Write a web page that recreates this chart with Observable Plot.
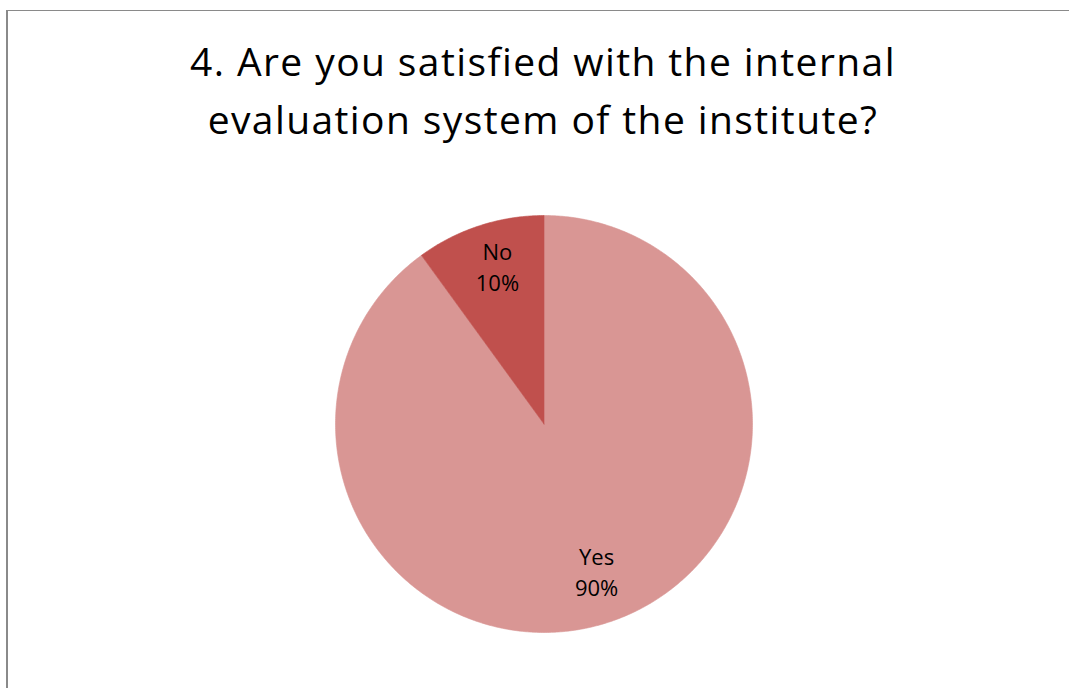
<!DOCTYPE html>
<html>
<head>
<meta charset="utf-8">
<script src="https://cdn.jsdelivr.net/npm/d3@7"></script>
<script src="https://cdn.jsdelivr.net/npm/@observablehq/plot@0.6"></script>
<style>
  html, body { margin: 0; padding: 0; background: #fff; width: 1069px; height: 688px; overflow: hidden; }
  #frame { position: absolute; left: 6px; top: 10px; width: 1100px; height: 700px;
           border-left: 2px solid #8a8a8a; border-top: 1px solid #8a8a8a; }
  #title { position: absolute; left: 0; top: 32px; width: 1086px; text-align: center;
           font-family: "Open Sans", sans-serif; font-size: 39px; letter-spacing: 1.4px;
           line-height: 58px; color: #000; }
  #chart { position: absolute; left: 0; top: 0; }
</style>
</head>
<body>
<div id="frame"></div>
<div id="chart"></div>
<div id="title">4. Are you satisfied with the internal<br>evaluation system of the institute?</div>
<script>
const categories = ["Yes", "No"];
const values = [90, 10];
const colors = ["#D99694", "#C0504D"];
const labels = ["Yes\n90%", "No\n10%"];

// layout
const W = 1069, H = 688;
const cx = 543.5, cy = 423.5, R = 208.5;

// Build slice outlines in unit-circle coordinates (clockwise from 12 o'clock)
const total = d3.sum(values);
const slicePts = [];
const labelRows = [];
let acc = 0;
categories.forEach((c, i) => {
  const a0 = acc / total * 2 * Math.PI;
  acc += values[i];
  const a1 = acc / total * 2 * Math.PI;
  slicePts.push({cat: c, x: 0, y: 0});
  const n = Math.max(2, Math.ceil((a1 - a0) / (Math.PI / 360)));
  for (let k = 0; k <= n; k++) {
    const a = a0 + (a1 - a0) * k / n;
    slicePts.push({cat: c, x: Math.sin(a), y: Math.cos(a)});
  }
  slicePts.push({cat: c, x: 0, y: 0});
  const am = (a0 + a1) / 2;
  labelRows.push({cat: c, label: labels[i], x: 0.77 * Math.sin(am), y: 0.77 * Math.cos(am)});
});

const chart = Plot.plot({
  width: W, height: H,
  margin: 0,
  x: {domain: [(0 - cx) / R, (W - cx) / R], range: [0, W], axis: null},
  y: {domain: [(cy - H) / R, cy / R], range: [H, 0], axis: null},
  color: {domain: categories, range: colors},
  style: {background: "transparent"},
  marks: [
    Plot.line(slicePts, {x: "x", y: "y", z: "cat", fill: "cat", stroke: "cat", strokeWidth: 0.6, curve: "linear"}),
    Plot.text(labelRows, {x: "x", y: "y", text: "label", fill: "#000", dx: 3, dy: -6,
      fontSize: 22, lineHeight: 1.41, fontFamily: "'Open Sans', sans-serif"})
  ]
});
document.getElementById("chart").appendChild(chart);
</script>
</body>
</html>
